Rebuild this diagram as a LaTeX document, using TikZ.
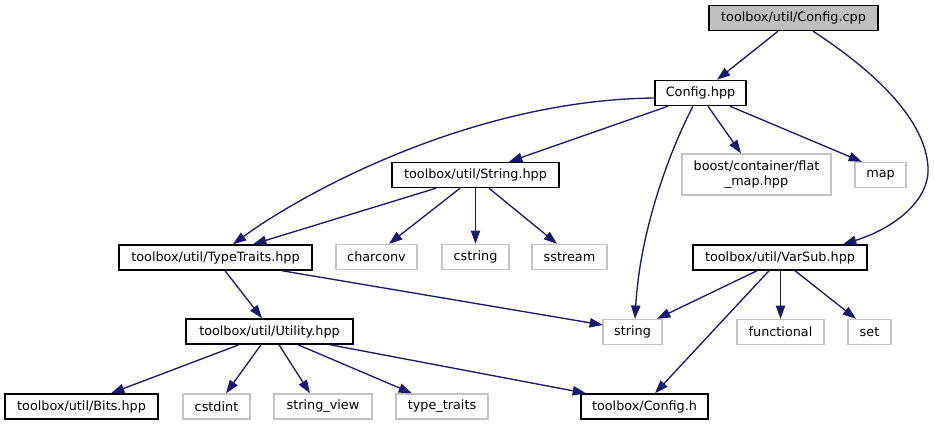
\documentclass[tikz,border=0pt]{standalone}
\usepackage{fontspec}
\setmainfont{DejaVu Sans}
\usetikzlibrary{arrows.meta}
\definecolor{edgeblue}{HTML}{191970}
\definecolor{graybox}{HTML}{BFBFBF}
\definecolor{grayline}{HTML}{C4C4C4}
\begin{document}
\begin{tikzpicture}[x=0.75pt,y=-0.75pt,
  every node/.style={font=\fontsize{9.6}{11.5}\selectfont, inner sep=0pt, minimum height=18.75pt},
  docbox/.style={draw=black, line width=1.1pt, fill=white},
  srcbox/.style={draw=black, line width=1.1pt, fill=graybox},
  sysbox/.style={draw=grayline, line width=1pt, fill=white},
  dep/.style={draw=edgeblue, line width=1pt, -{Triangle[length=10pt,width=7pt]}}]
\useasboundingbox (0,0) rectangle (934,425);
% nodes
\node[srcbox, minimum width=126.75pt] (cpp) at (793.5,18) {toolbox/util/Config.cpp};
\node[docbox, minimum width=68.25pt] (hpp) at (700.5,93) {Config.hpp};
\node[docbox, minimum width=125.25pt] (str) at (475.5,175) {toolbox/util/String.hpp};
\node[sysbox, minimum width=111.75pt, minimum height=30.75pt, align=center] (flat) at (756.5,174.5) {boost/container/flat\\\_map.hpp};
\node[sysbox, minimum width=38.25pt] (map) at (880.5,175) {map};
\node[docbox, minimum width=144.75pt] (tt) at (215.5,257.5) {toolbox/util/TypeTraits.hpp};
\node[sysbox, minimum width=60.75pt] (charconv) at (376.5,257) {charconv};
\node[sysbox, minimum width=50.25pt] (cstring) at (475.5,257) {cstring};
\node[sysbox, minimum width=56.25pt] (sstream) at (569.5,257) {sstream};
\node[docbox, minimum width=130.5pt] (varsub) at (780,257.5) {toolbox/util/VarSub.hpp};
\node[docbox, minimum width=125.25pt] (util) at (269.5,331.5) {toolbox/util/Utility.hpp};
\node[sysbox, minimum width=44.25pt] (string) at (632.5,332) {string};
\node[sysbox, minimum width=65.25pt] (functional) at (780.5,332) {functional};
\node[sysbox, minimum width=32.25pt] (set) at (869.5,332) {set};
\node[docbox, minimum width=114.75pt] (bits) at (81.5,406.5) {toolbox/util/Bits.hpp};
\node[sysbox, minimum width=50.25pt] (cstdint) at (216.5,406.5) {cstdint};
\node[sysbox, minimum width=73.5pt] (sview) at (323,406.5) {string\_view};
\node[sysbox, minimum width=69pt] (ttraits) at (442,406.5) {type\_traits};
\node[docbox, minimum width=95.25pt] (configh) at (644.5,406.5) {toolbox/Config.h};
% edges
\draw[dep] (778,0 |- cpp.south) -- (717,0 |- hpp.north);
\draw[dep] (813,0 |- cpp.south) .. controls (865,65) and (925,115) .. (928,167)
  .. controls (930,200) and (895,228) .. (843,0 |- varsub.north);
\draw[dep] (hpp.west |- 0,98) .. controls (470,100) and (300,195) .. (233,0 |- tt.north);
\draw[dep] (668,0 |- hpp.south) -- (509,0 |- str.north);
\draw[dep] (693,0 |- hpp.south) .. controls (670,150) and (640,230) .. (635,0 |- string.north);
\draw[dep] (708,0 |- hpp.south) -- (741,0 |- flat.north);
\draw[dep] (730,0 |- hpp.south) -- (862,0 |- map.north);
\draw[dep] (436,0 |- str.south) -- (253,0 |- tt.north);
\draw[dep] (460,0 |- str.south) -- (389,0 |- charconv.north);
\draw[dep] (475.5,0 |- str.south) -- (475.5,0 |- cstring.north);
\draw[dep] (489,0 |- str.south) -- (557,0 |- sstream.north);
\draw[dep] (225,0 |- tt.south) -- (262,0 |- util.north);
\draw[dep] (282,0 |- tt.south) -- (603,325);
\draw[dep] (757,0 |- varsub.south) -- (657,0 |- string.north);
\draw[dep] (769,0 |- varsub.south) -- (655,0 |- configh.north);
\draw[dep] (780.5,0 |- varsub.south) -- (780.5,0 |- functional.north);
\draw[dep] (795,0 |- varsub.south) -- (856,0 |- set.north);
\draw[dep] (239,0 |- util.south) -- (111,0 |- bits.north);
\draw[dep] (261,0 |- util.south) -- (226,0 |- cstdint.north);
\draw[dep] (279,0 |- util.south) -- (310,0 |- sview.north);
\draw[dep] (298,0 |- util.south) -- (412,0 |- ttraits.north);
\draw[dep] (330,0 |- util.south) -- (586,0 |- configh.north);
\end{tikzpicture}
\end{document}
